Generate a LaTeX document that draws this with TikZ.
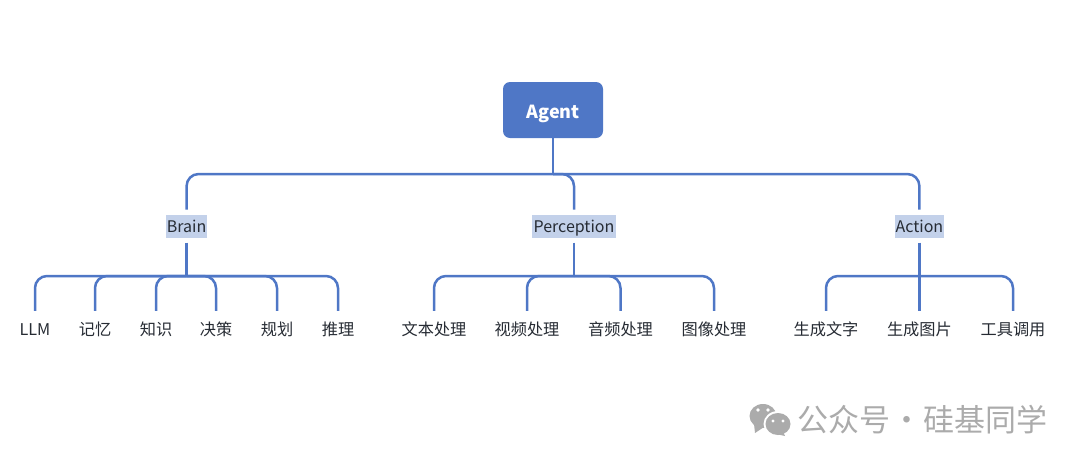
\documentclass[tikz,border=0pt]{standalone}
\usepackage{fontspec}
\setmainfont{Noto Sans CJK SC}
\definecolor{agentblue}{HTML}{4F77C6}
\definecolor{labelblue}{HTML}{C3D1EA}
\definecolor{leafink}{HTML}{262B33}
\definecolor{markgray}{HTML}{ABABAB}
\tikzset{
    conn/.style={draw=agentblue, line width=2.5pt, rounded corners=12pt},
    rootbox/.style={fill=agentblue, text=white, rounded corners=7pt, minimum width=100pt, minimum height=56pt, text height=17.5pt, text depth=0pt, font=\fontsize{18}{18}\selectfont\bfseries},
    midlabel/.style={fill=labelblue, text=leafink, inner sep=0pt, text width=#1, align=center, minimum height=23pt, text height=13pt, text depth=0pt, outer sep=5pt, font=\fontsize{16}{16}\selectfont},
    leaf/.style={text=leafink, inner sep=0pt, minimum height=36pt, text height=12pt, text depth=0pt, font=\fontsize{16.2}{16.2}\selectfont}
}
\begin{document}
\begin{tikzpicture}[x=1pt, y=-1pt]
    \useasboundingbox (0,0) rectangle (1080,464);
    \node[rootbox] (Agent) at (553,110) {Agent};
    \coordinate (topBus) at (553,174);

    \node[midlabel=41pt] (Brain) at (186.6,226) {Brain};
    \node[midlabel=84pt] (Perception) at (574,226) {Perception};
    \node[midlabel=49pt] (Action) at (919.4,226) {Action};
    \coordinate (brainBus) at (186.6,276);
    \coordinate (percBus) at (574,276);
    \coordinate (actBus) at (919.4,276);

    \node[leaf] (LLM) at (35,329) {LLM};
    \node[leaf] (Memory) at (95,329) {记忆};
    \node[leaf] (Knowledge) at (156,329) {知识};
    \node[leaf] (Decision) at (216,329) {决策};
    \node[leaf] (Planning) at (277,329) {规划};
    \node[leaf] (Reasoning) at (338,329) {推理};
    \node[leaf] (TextProc) at (434,329) {文本处理};
    \node[leaf] (VideoProc) at (527,329) {视频处理};
    \node[leaf] (AudioProc) at (620.5,329) {音频处理};
    \node[leaf] (ImageProc) at (714,329) {图像处理};
    \node[leaf] (GenText) at (826,329) {生成文字};
    \node[leaf] (GenImage) at (919.4,329) {生成图片};
    \node[leaf] (ToolCall) at (1013,329) {工具调用};

    \draw[conn] (Agent) to (topBus);
    \draw[conn] (topBus) -| (Brain);
    \draw[conn] (topBus) -| (Perception);
    \draw[conn] (topBus) -| (Action);

    \draw[conn] (Brain) to (brainBus);
    \draw[conn] (brainBus) -| (LLM);
    \draw[conn] (brainBus) -| (Memory);
    \draw[conn] (brainBus) -| (Knowledge);
    \draw[conn] (brainBus) -| (Decision);
    \draw[conn] (brainBus) -| (Planning);
    \draw[conn] (brainBus) -| (Reasoning);

    \draw[conn] (Perception) to (percBus);
    \draw[conn] (percBus) -| (TextProc);
    \draw[conn] (percBus) -| (VideoProc);
    \draw[conn] (percBus) -| (AudioProc);
    \draw[conn] (percBus) -| (ImageProc);

    \draw[conn] (Action) to (actBus);
    \draw[conn] (actBus) -| (GenText);
    \draw[conn] (actBus) to (GenImage);
    \draw[conn] (actBus) -| (ToolCall);

    % watermark
    \fill[markgray] (763,416) ellipse (13.5pt and 12pt);
    \fill[markgray] (754,424) -- (755,433) -- (764,427) -- cycle;
    \fill[white] (778,424) ellipse (14.5pt and 13pt);
    \fill[markgray] (778,424) ellipse (12.5pt and 11pt);
    \fill[markgray] (783,432) -- (785,436) -- (776,434) -- cycle;
    \fill[white] (758,410) circle (1.8pt) (768,410) circle (1.8pt);
    \fill[white] (773,421) circle (1.6pt) (783,421) circle (1.6pt);
    \node[text=markgray, inner sep=0pt, font=\fontsize{31}{31}\selectfont] (Mark) at (922.5,420) {公众号\hspace{1pt}·\hspace{1pt}硅基同学};
\end{tikzpicture}
\end{document}
